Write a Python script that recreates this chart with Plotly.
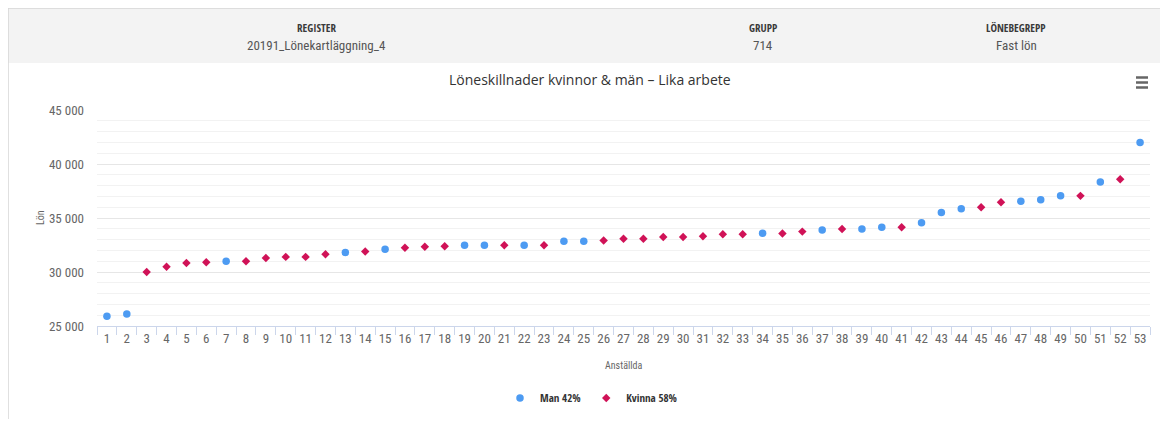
import plotly.graph_objects as go

# Body margin of the page is 8px: figure is sized so the page fills the window exactly.
OFF = 8
W, H = 1168 - 2 * OFF, 427 - 2 * OFF

categories = [str(i) for i in range(1, 54)]

man_x = [1, 2, 7, 13, 15, 19, 20, 22, 24, 25, 34, 37, 39, 40, 42, 43, 44, 47, 48, 49, 51, 53]
man_y = [25900, 26100, 31000, 31800, 32100, 32480, 32480, 32480, 32850, 32850, 33580,
         33900, 33990, 34140, 34570, 35500, 35850, 36540, 36700, 37050, 38330, 42000]

kvinna_x = [3, 4, 5, 6, 8, 9, 10, 11, 12, 14, 16, 17, 18, 21, 23, 26, 27, 28, 29, 30, 31,
            32, 33, 35, 36, 38, 41, 45, 46, 50, 52]
kvinna_y = [30000, 30490, 30830, 30900, 31000, 31300, 31400, 31400, 31650, 31900, 32240,
            32330, 32390, 32480, 32480, 32910, 33070, 33070, 33250, 33250, 33310, 33500,
            33500, 33560, 33740, 33990, 34140, 36000, 36450, 37050, 38590]

y_ticks = [25000, 30000, 35000, 40000, 45000]

header_labels = ["REGISTER", "GRUPP", "LÖNEBEGREPP"]
header_values = ["20191_Lönekartläggning_4", "714", "Fast lön"]

FONT = "Open Sans, Liberation Sans, sans-serif"
COND = "Roboto Condensed, Open Sans, sans-serif"
COND_B = "Open Sans Condensed, Roboto Condensed, sans-serif"


def px(x):
    return (x - OFF) / W


def py(y):
    return 1 - (y - OFF) / H


fig = go.Figure()
fig.add_trace(go.Scatter(
    x=[str(v) for v in man_x], y=man_y, mode="markers", name="Man 42%",
    marker=dict(symbol="circle", size=7.5, color="#4d9bf2"),
))
fig.add_trace(go.Scatter(
    x=[str(v) for v in kvinna_x], y=kvinna_y, mode="markers", name="Kvinna 58%",
    marker=dict(symbol="diamond", size=6.5, color="#d01257"),
))

shapes = [
    dict(type="rect", xref="paper", yref="paper", x0=0, x1=1, y0=py(63), y1=1,
         fillcolor="#f3f3f3", line=dict(width=0), layer="below"),
    dict(type="line", xref="paper", yref="paper", x0=0, x1=1, y0=1, y1=1,
         line=dict(color="#d6d6d6", width=1.5)),
    dict(type="line", xref="paper", yref="paper", x0=0, x1=0, y0=0, y1=1,
         line=dict(color="#d6d6d6", width=1.5)),
]
for yy in (77.5, 82.5, 87.5):
    shapes.append(dict(type="line", xref="paper", yref="paper", x0=px(1136), x1=px(1148),
                       y0=py(yy), y1=py(yy), line=dict(color="#666666", width=2.5)))

annotations = []
for xc, lab, val in zip([316, 763, 1016], header_labels, header_values):
    annotations.append(dict(x=px(xc), y=py(27), xref="paper", yref="paper", text="<b>" + lab + "</b>",
                            showarrow=False, font=dict(family=COND_B, size=11, color="#3a3a3a"),
                            xanchor="center", yanchor="middle"))
    annotations.append(dict(x=px(xc), y=py(45), xref="paper", yref="paper", text=val,
                            showarrow=False, font=dict(family=COND, size=13, color="#555555"),
                            xanchor="center", yanchor="middle"))

annotations.append(dict(x=px(590), y=py(79), xref="paper", yref="paper",
                        text="Löneskillnader kvinnor & män – Lika arbete", showarrow=False,
                        font=dict(family=FONT, size=14, color="#333333"),
                        xanchor="center", yanchor="middle"))
annotations.append(dict(x=px(40), y=py(218), xref="paper", yref="paper", text="Lön",
                        showarrow=False, textangle=-90,
                        font=dict(family=COND, size=10, color="#666666"),
                        xanchor="center", yanchor="middle"))
annotations.append(dict(x=px(623), y=py(365), xref="paper", yref="paper", text="Anställda",
                        showarrow=False, font=dict(family=COND, size=10, color="#666666"),
                        xanchor="center", yanchor="middle"))

fig.update_layout(
    width=W, height=H,
    margin=dict(l=0, r=0, t=0, b=0, pad=0, autoexpand=False),
    paper_bgcolor="white", plot_bgcolor="white",
    separators=", ",
    font=dict(family=FONT, color="#666666"),
    shapes=shapes,
    annotations=annotations,
    showlegend=True,
    legend=dict(orientation="h", x=px(500), y=py(398), xanchor="left", yanchor="middle",
                font=dict(family=COND_B, size=11, color="#333333", weight="bold"),
                itemwidth=30, bgcolor="rgba(0,0,0,0)"),
    xaxis=dict(
        type="category", categoryorder="array", categoryarray=categories,
        range=[-0.5, 52.5],
        domain=[px(97), px(1150)],
        showgrid=False, showline=True, linecolor="#ccd6eb", linewidth=1,
        ticks="outside", tickson="boundaries", ticklen=8, tickcolor="#ccd6eb",
        tickangle=0, automargin=False,
        tickfont=dict(family=COND, size=13, color="#666666"),
        zeroline=False, fixedrange=True,
    ),
    yaxis=dict(
        range=[25000, 45000], domain=[py(326), py(110)],
        tickvals=y_ticks, tickformat=",d", automargin=False,
        showgrid=True, gridcolor="#e6e6e6", gridwidth=1,
        minor=dict(dtick=1000, showgrid=True, gridcolor="#f2f2f2", gridwidth=1),
        showline=False, zeroline=False, ticks="",
        ticklabelstandoff=12,
        tickfont=dict(family=COND, size=13, color="#666666"),
        fixedrange=True,
    ),
)

fig.write_html("out.html")
